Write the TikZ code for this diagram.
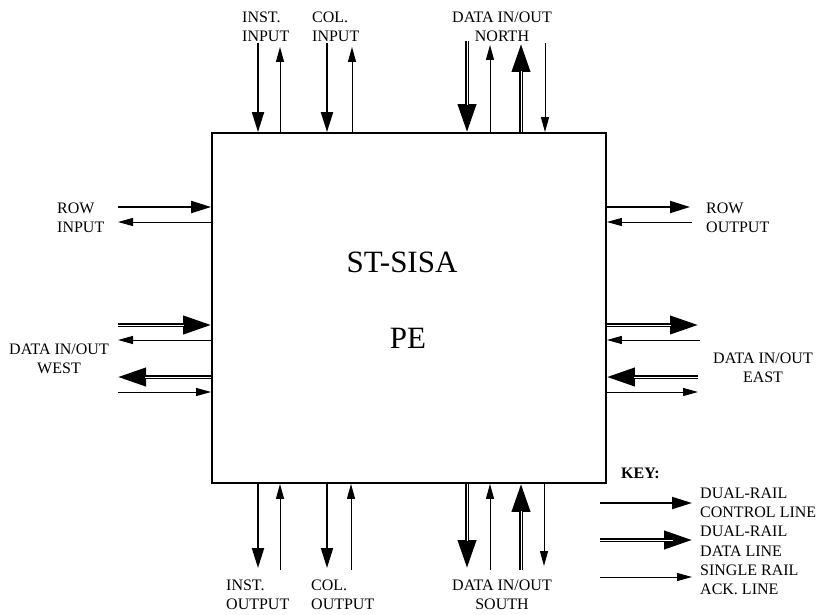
\documentclass[tikz,border=0pt]{standalone}
\usepackage{fontspec}
\setmainfont{Liberation Serif}
\usetikzlibrary{arrows.meta}

\begin{document}
\begin{tikzpicture}[
		x=1pt, y=-1pt,
		every node/.style={font=\fontsize{16}{19.5}\selectfont, inner sep=0pt},
		ctrl/.style={line width=2pt, -{Triangle[length=20pt,width=12pt]}},
		ack/.style={line width=1pt, -{Triangle[length=15pt,width=8pt]}},
		data/.style={line width=4pt, -{Triangle[length=28pt,width=18pt]},
			postaction={draw=white, line width=0.9pt, -, shorten >=27pt}},
		lbl/.style={align=left, anchor=west},
		clbl/.style={align=center},
		big/.style={font=\fontsize{31}{36}\selectfont}
	]
	\useasboundingbox (0,0) rectangle (817,615);

	\node[draw, line width=1.8pt, minimum width=394pt, minimum height=350pt] (pe) at (409,308) {};
	\node[big] (sisa) at (402,262) {ST-SISA};
	\node[big] (pename) at (408,338) {PE};

	% north side
	\coordinate (instin) at (258,43);
	\coordinate (instinack) at (280,47);
	\coordinate (colin) at (327,43);
	\coordinate (colinack) at (352,47);
	\coordinate (nin) at (467,41);
	\coordinate (ninack) at (490,45);
	\coordinate (nout) at (521,44);
	\coordinate (noutack) at (545,43);
	\draw[ctrl] (instin) -- (instin |- pe.north);
	\draw[ack] (instinack |- pe.north) -- (instinack);
	\draw[ctrl] (colin) -- (colin |- pe.north);
	\draw[ack] (colinack |- pe.north) -- (colinack);
	\draw[data] (nin) -- (nin |- pe.north);
	\draw[ack] (ninack |- pe.north) -- (ninack);
	\draw[data] (nout |- pe.north) -- (nout);
	\draw[ack] (noutack) -- (noutack |- pe.north);
	\node[lbl] (instinlab) at (242,27) {INST.\\INPUT};
	\node[lbl] (colinlab) at (312,27) {COL.\\INPUT};
	\node[clbl] (northlab) at (502,27) {DATA IN/OUT\\NORTH};

	% south side
	\coordinate (instout) at (258,568);
	\coordinate (instoutack) at (280,570);
	\coordinate (colout) at (327,568);
	\coordinate (coloutack) at (351,570);
	\coordinate (sout) at (467,568);
	\coordinate (soutack) at (490,570);
	\coordinate (sin) at (521,570);
	\coordinate (sinack) at (544,566);
	\draw[ctrl] (instout |- pe.south) -- (instout);
	\draw[ack] (instoutack) -- (instoutack |- pe.south);
	\draw[ctrl] (colout |- pe.south) -- (colout);
	\draw[ack] (coloutack) -- (coloutack |- pe.south);
	\draw[data] (sout |- pe.south) -- (sout);
	\draw[ack] (soutack) -- (soutack |- pe.south);
	\draw[data] (sin) -- (sin |- pe.south);
	\draw[ack] (sinack |- pe.south) -- (sinack);
	\node[lbl] (instoutlab) at (226,595) {INST.\\OUTPUT};
	\node[lbl] (coloutlab) at (311,595) {COL.\\OUTPUT};
	\node[clbl] (southlab) at (502,595) {DATA IN/OUT\\SOUTH};

	% west side
	\coordinate (rowin) at (118,207);
	\coordinate (rowinack) at (118,222);
	\coordinate (win) at (118,325);
	\coordinate (winack) at (118,340);
	\coordinate (wout) at (118,377);
	\coordinate (woutack) at (118,392);
	\draw[ctrl] (rowin) -- (rowin -| pe.west);
	\draw[ack] (rowinack -| pe.west) -- (rowinack);
	\draw[data] (win) -- (win -| pe.west);
	\draw[ack] (winack -| pe.west) -- (winack);
	\draw[data] (wout -| pe.west) -- (wout);
	\draw[ack] (woutack) -- (woutack -| pe.west);
	\node[lbl] (rowinlab) at (57,218) {ROW\\INPUT};
	\node[clbl] (westlab) at (59,359) {DATA IN/OUT\\WEST};

	% east side
	\coordinate (rowout) at (690,207);
	\coordinate (rowoutack) at (692,222);
	\coordinate (eout) at (698,325);
	\coordinate (eoutack) at (700,340);
	\coordinate (ein) at (698,377);
	\coordinate (einack) at (698,392);
	\draw[ctrl] (rowout -| pe.east) -- (rowout);
	\draw[ack] (rowoutack) -- (rowoutack -| pe.east);
	\draw[data] (eout -| pe.east) -- (eout);
	\draw[ack] (eoutack) -- (eoutack -| pe.east);
	\draw[data] (ein) -- (ein -| pe.east);
	\draw[ack] (einack -| pe.east) -- (einack);
	\node[lbl] (rowoutlab) at (706,218) {ROW\\OUTPUT};
	\node[clbl] (eastlab) at (763,368) {DATA IN/OUT\\EAST};

	% key
	\node[lbl] (keylab) at (621,473) {\textbf{KEY:}};
	\node[lbl] (kctrllab) at (700,503) {DUAL-RAIL\\CONTROL LINE};
	\node[lbl] (kdatalab) at (700,541) {DUAL-RAIL\\DATA LINE};
	\node[lbl] (kacklab) at (700,580) {SINGLE RAIL\\ACK. LINE};
	\coordinate (kctrl) at (600,503);
	\coordinate (kdata) at (600,540);
	\coordinate (kack) at (600,577);
	\draw[ctrl, shorten >=8pt] (kctrl) -- (kctrl -| kctrllab.west);
	\draw[data, shorten >=8pt] (kdata) -- (kdata -| kdatalab.west);
	\draw[ack, shorten >=8pt] (kack) -- (kack -| kacklab.west);
\end{tikzpicture}
\end{document}
